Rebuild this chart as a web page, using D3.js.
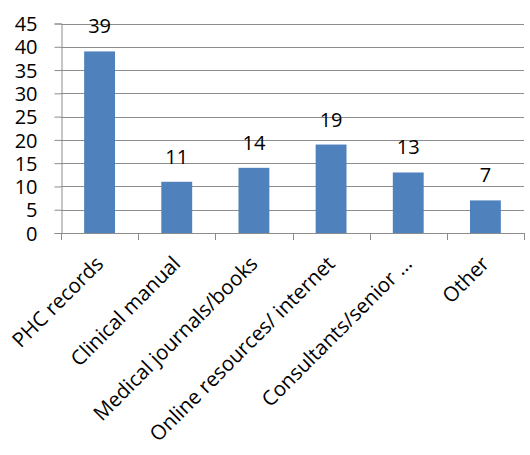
<!DOCTYPE html>
<html>
<head>
<meta charset="utf-8">
<script src="https://cdn.jsdelivr.net/npm/d3@7"></script>
<style>
  html, body { margin: 0; padding: 0; background: #fff; }
  svg text { font-family: "Open Sans", "Liberation Sans", sans-serif; fill: #000; }
</style>
</head>
<body>
<svg id="chart" width="530" height="455"></svg>
<script>
// Sources of information used
const categories = ["PHC records", "Clinical manual", "Medical journals/books",
                    "Online resources/ internet", "Consultants/senior \u2026", "Other"];
const values = [39, 11, 14, 19, 13, 7];
const yTicks = [0, 5, 10, 15, 20, 25, 30, 35, 40, 45];

const svg = d3.select("#chart");
const plotLeft = 61, plotRight = 524, plotTop = 23.5, plotBottom = 233;

const x = d3.scaleBand().domain(categories).range([plotLeft, plotRight])
  .paddingInner(0.6).paddingOuter(0.3);
const y = d3.scaleLinear().domain([0, 45]).range([plotBottom, plotTop]);

// horizontal gridlines
svg.append("g").selectAll("line").data(yTicks.slice(1)).join("line")
  .attr("x1", plotLeft).attr("x2", plotRight)
  .attr("y1", d => Math.round(y(d)) + 0.5).attr("y2", d => Math.round(y(d)) + 0.5)
  .attr("stroke", "#8c8c8c").attr("stroke-width", 1);

// y axis
const yAxis = d3.axisLeft(y).tickValues(yTicks).tickSize(7).tickPadding(17);
const gy = svg.append("g").attr("transform", `translate(${plotLeft + 0.5},0)`).call(yAxis);
gy.select(".domain").attr("stroke", "#8c8c8c");
gy.selectAll(".tick line").attr("stroke", "#8c8c8c");
gy.selectAll(".tick text").style("font-size", "20px").attr("dy", "0.36em");

// bars
svg.append("g").selectAll("rect").data(values).join("rect")
  .attr("x", (d, i) => x(categories[i]))
  .attr("width", x.bandwidth())
  .attr("y", d => y(d))
  .attr("height", d => y(0) - y(d))
  .attr("fill", "#4f81bd");

// x axis baseline with tick marks between categories
const xb = svg.append("g");
xb.append("line").attr("x1", plotLeft).attr("x2", plotRight)
  .attr("y1", Math.round(plotBottom) + 0.5).attr("y2", Math.round(plotBottom) + 0.5)
  .attr("stroke", "#8c8c8c");
xb.selectAll("line.tk").data(d3.range(categories.length + 1)).join("line")
  .attr("class", "tk")
  .attr("x1", i => Math.round(plotLeft + i * x.step()) + 0.5)
  .attr("x2", i => Math.round(plotLeft + i * x.step()) + 0.5)
  .attr("y1", Math.round(plotBottom)).attr("y2", Math.round(plotBottom) + 7)
  .attr("stroke", "#8c8c8c");

// value labels
svg.append("g").selectAll("text").data(values).join("text")
  .attr("x", (d, i) => x(categories[i]) + x.bandwidth() / 2)
  .attr("y", d => y(d) - 18)
  .attr("text-anchor", "middle")
  .style("font-size", "20px")
  .text(d => d);

// rotated category labels
svg.append("g").selectAll("text").data(categories).join("text")
  .attr("transform", d => `translate(${x(d) + x.bandwidth() / 2 + 5},${plotBottom + 32}) rotate(-45)`)
  .attr("text-anchor", "end")
  .style("font-size", "20.5px")
  .text(d => d);
</script>
</body>
</html>
